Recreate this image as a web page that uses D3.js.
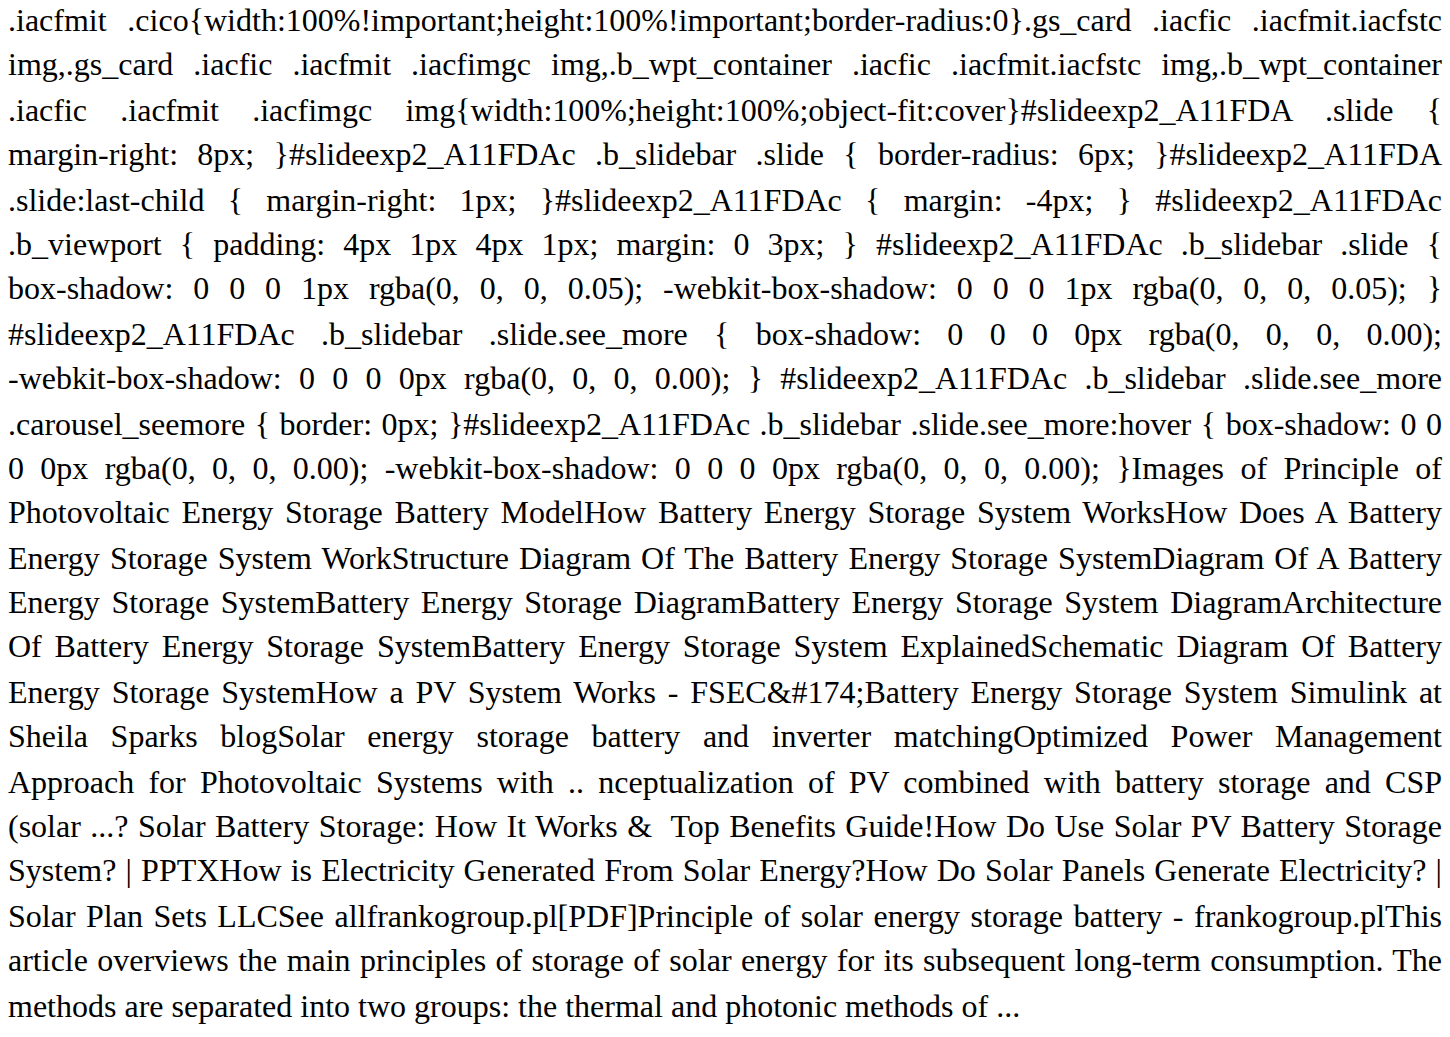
<!DOCTYPE html>
<html>
<head>
<meta charset="utf-8">
<script src="https://cdn.jsdelivr.net/npm/d3@7"></script>
<style>
  html, body { margin: 0; padding: 0; background: #fff; }
  body { width: 1450px; height: 1037px; overflow: hidden; position: relative; }
  #page {
    position: absolute;
    left: 0; top: 0;
    width: 717px;
    transform-origin: 0 0;
    transform: translate(8px, -1.5px) scale(2);
    font-family: "Liberation Serif", "Times New Roman", serif;
    font-size: 16px;
    line-height: 22.4px;
    color: #000;
  }
  .ln {
    height: 22.4px;
    text-align: justify;
    text-align-last: justify;
    white-space: normal;
  }
  .ln.last { text-align: left; text-align-last: left; }
</style>
</head>
<body>
<div id="page"></div>
<script>
const lines = [
  ".iacfmit .cico{width:100%!important;height:100%!important;border-radius:0}.gs_card .iacfic .iacfmit.iacfstc",
  "img,.gs_card .iacfic .iacfmit .iacfimgc img,.b_wpt_container .iacfic .iacfmit.iacfstc img,.b_wpt_container",
  ".iacfic .iacfmit .iacfimgc img{width:100%;height:100%;object-fit:cover}#slideexp2_A11FDA .slide {",
  "margin-right: 8px; }#slideexp2_A11FDAc .b_slidebar .slide { border-radius: 6px; }#slideexp2_A11FDA",
  ".slide:last-child { margin-right: 1px; }#slideexp2_A11FDAc { margin: -4px; } #slideexp2_A11FDAc",
  ".b_viewport { padding: 4px 1px 4px 1px; margin: 0 3px; } #slideexp2_A11FDAc .b_slidebar .slide {",
  "box-shadow: 0 0 0 1px rgba(0, 0, 0, 0.05); -webkit-box-shadow: 0 0 0 1px rgba(0, 0, 0, 0.05); }",
  "#slideexp2_A11FDAc .b_slidebar .slide.see_more { box-shadow: 0 0 0 0px rgba(0, 0, 0, 0.00);",
  "-webkit-box-shadow: 0 0 0 0px rgba(0, 0, 0, 0.00); } #slideexp2_A11FDAc .b_slidebar .slide.see_more",
  ".carousel_seemore { border: 0px; }#slideexp2_A11FDAc .b_slidebar .slide.see_more:hover { box-shadow: 0 0",
  "0 0px rgba(0, 0, 0, 0.00); -webkit-box-shadow: 0 0 0 0px rgba(0, 0, 0, 0.00); }Images of Principle of",
  "Photovoltaic Energy Storage Battery ModelHow Battery Energy Storage System WorksHow Does A Battery",
  "Energy Storage System WorkStructure Diagram Of The Battery Energy Storage SystemDiagram Of A Battery",
  "Energy Storage SystemBattery Energy Storage DiagramBattery Energy Storage System DiagramArchitecture",
  "Of Battery Energy Storage SystemBattery Energy Storage System ExplainedSchematic Diagram Of Battery",
  "Energy Storage SystemHow a PV System Works - FSEC&#174;Battery Energy Storage System Simulink at",
  "Sheila Sparks blogSolar energy storage battery and inverter matchingOptimized Power Management",
  "Approach for Photovoltaic Systems with .. nceptualization of PV combined with battery storage and CSP",
  "(solar ...? Solar Battery Storage: How It Works &\u00a0 Top Benefits Guide!How Do Use Solar PV Battery Storage",
  "System? | PPTXHow is Electricity Generated From Solar Energy?How Do Solar Panels Generate Electricity? |",
  "Solar Plan Sets LLCSee allfrankogroup.pl[PDF]Principle of solar energy storage battery - frankogroup.plThis",
  "article overviews the main principles of storage of solar energy for its subsequent long-term consumption. The",
  "methods are separated into two groups: the thermal and photonic methods of ..."
];

d3.select("#page").selectAll("div.ln")
  .data(lines)
  .join("div")
  .attr("class", (d, i) => i === lines.length - 1 ? "ln last" : "ln")
  .text(d => d);
</script>
</body>
</html>
